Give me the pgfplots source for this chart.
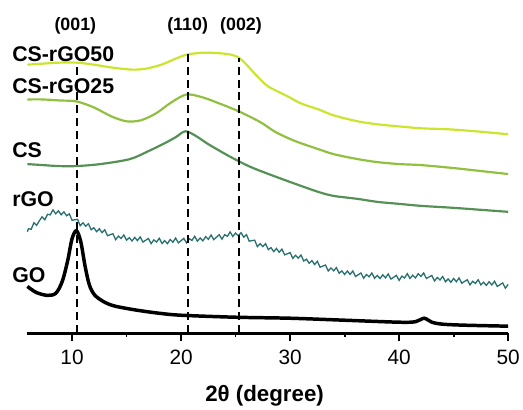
\documentclass[border=0pt]{standalone}
\usepackage{pgfplots}
\pgfplotsset{compat=1.18}
\usepackage{fontspec}
\setmainfont{Liberation Sans}
\definecolor{cfifty}{RGB}{205,228,45}
\definecolor{ctwfive}{RGB}{145,192,65}
\definecolor{ccs}{RGB}{85,145,85}
\definecolor{crgo}{RGB}{40,112,112}

\begin{document}
\begin{tikzpicture}
\begin{axis}[
    scale only axis,
    width=484bp, height=305bp,
    xmin=5.85, xmax=50, ymin=0, ymax=305,
    axis x line*=bottom, axis y line=none,
    clip=false,
    xtick={10,20,30,40,50},
    minor xtick={15,25,35,45},
    tick align=outside,
    major tick length=8bp, minor tick length=4bp,
    every tick/.style={black, line width=1.8bp},
    x axis line style={line width=2.8bp, -},
    /pgf/number format/assume math mode=true,
    xticklabel style={font=\fontsize{21}{21}\selectfont, yshift=-5bp},
    xlabel={\bfseries 2θ (degree)},
    xlabel style={font=\fontsize{22.5}{22.5}\selectfont, at={(axis description cs:0.494,-0.208)}, anchor=center},
    every axis plot/.append style={no marks},
]
% invisible page frame
\path (axis cs:3.39,-74) rectangle (axis cs:51.1,335);

\addplot[cfifty, line width=2.2bp, smooth] coordinates {
(5.9,270) (7.3,271) (8.8,272) (10.4,272) (12,270) (13.7,267) (15.5,265) (16.8,266)
(18.2,270) (19.5,276) (20.5,280) (22,282) (23.5,281.5) (24.6,280) (25.3,277) (26,270)
(27.1,257) (28,248) (29.8,238) (31,231) (32.6,225) (34,219) (36.2,213) (38,210)
(39.9,208) (42,206) (44.5,205) (47,203) (50,200)};

\addplot[ctwfive, line width=2.2bp, smooth] coordinates {
(5.9,235) (7.3,235) (8.8,234) (10.4,233) (12,227) (13.6,218) (15,213) (16.3,214)
(17.7,221) (19.1,232) (20.5,240) (22,237) (23.5,231) (25.3,223) (27.3,212) (28.7,202)
(30.5,193) (32.6,185) (34,180) (36.2,175) (38,172) (40,170) (42,169) (45,166)
(47.5,163) (50,160)};

\addplot[ccs, line width=2.2bp, smooth] coordinates {
(5.9,170) (7.3,169) (8.8,168) (10.4,168) (12.6,170) (15.3,175) (17,183) (18.5,191)
(19.5,197) (20.4,203) (21.4,198) (22.5,190) (24.4,178) (26,169) (27.3,163) (30,152)
(32.6,142) (34,138) (36.2,135) (38,132) (40,130) (42,128) (45,126) (47.5,124) (50,122)};

\addplot[crgo, line width=1.3bp] coordinates {
(5.9,102) (6.00,105) (6.25,104.5) (6.50,111) (6.75,108.5) (7.00,113) (7.25,117) (7.50,114)
(7.75,119.5) (8.00,119) (8.25,124) (8.50,120) (8.75,123) (9.00,119) (9.25,122) (9.50,118)
(9.75,120) (10.00,113.5) (10.25,114) (10.50,114.5) (10.75,108) (11.00,111) (11.25,107.5) (11.50,110)
(11.75,104) (12.00,106) (12.25,102) (12.50,105) (12.75,101) (13.00,104) (13.25,98) (13.50,99)
(13.75,100) (14.00,94) (14.25,97.6) (14.50,95.2) (14.75,98.8) (15.00,93.5) (15.25,96) (15.50,92.7)
(15.75,96.3) (16.00,93) (16.25,96.8) (16.50,91.6) (16.75,93.4) (17.00,95.2) (17.25,90) (17.50,93.8)
(17.75,91.6) (18.00,95.4) (18.25,90.2) (18.50,93) (18.75,90) (19.00,94.2) (19.25,91.4) (19.50,95.6)
(19.75,90.8) (20.00,93) (20.25,95.3) (20.50,90.7) (20.75,95) (21.00,93.2) (21.25,97.4) (21.50,92.5)
(21.75,95.7) (22.00,92.8) (22.25,97) (22.50,94.3) (22.75,98.7) (23.00,94) (23.25,96.5) (23.50,99)
(23.75,94.5) (24.00,99) (24.25,97.4) (24.50,101.8) (24.75,97.2) (25.00,100.6) (25.25,98) (25.50,101)
(25.75,96.5) (26.00,99) (26.25,92.5) (26.50,93) (26.75,93.5) (27.00,87) (27.25,90) (27.50,87)
(27.75,90) (28.00,84) (28.25,86) (28.50,82) (28.75,85.2) (29.00,81.3) (29.25,84.5) (29.50,78.7)
(29.75,79.8) (30.00,81) (30.25,75.2) (30.50,78.3) (30.75,75.4) (31.00,78.6) (31.25,72.5) (31.50,74.4)
(31.75,70.2) (32.00,73) (32.25,69) (32.50,72.2) (32.75,66.3) (33.00,67.4) (33.25,68.5) (33.50,62.5)
(33.75,65.6) (34.00,62.7) (34.25,65.9) (34.50,60.2) (34.75,62.6) (35.00,59) (35.25,62.5) (35.50,59)
(35.75,62.5) (36.00,57) (36.25,58.7) (36.50,60.5) (36.75,55.2) (37.00,59) (37.25,56.7) (37.50,60.5)
(37.75,55.2) (38.00,58) (38.25,54.9) (38.50,58.7) (38.75,55.6) (39.00,59.5) (39.25,54.4) (39.50,56.2)
(39.75,58.1) (40.00,53) (40.25,57.3) (40.50,55.5) (40.75,59.8) (41.00,55) (41.25,58.3) (41.50,55.5)
(41.75,59.8) (42.00,57) (42.25,60.5) (42.50,55) (42.75,56.5) (43.00,58) (43.25,52.5) (43.50,56)
(43.75,53.5) (44.00,57) (44.25,51.7) (44.50,54.5) (44.75,51.2) (45.00,55) (45.25,51.7) (45.50,55.5)
(45.75,50.2) (46.00,52) (46.25,53.7) (46.50,48.5) (46.75,52.2) (47.00,50) (47.25,53.7) (47.50,48.5)
(47.75,51.2) (48.00,48) (48.25,51.7) (48.50,48.5) (48.75,52.2) (49.00,47) (49.25,48.7) (49.50,50.5)
(49.75,45.2) (50.00,49)};

\addplot[black, line width=3.5bp, smooth] coordinates {
(5.9,47) (6.7,41) (7.7,38) (8.5,40) (9.1,52) (9.6,73) (10.0,95) (10.4,103)
(10.8,92) (11.2,67) (11.6,48) (12.1,38) (13,31) (14,27) (16,23) (18,20)
(20,18) (25,16) (30,15) (35,13) (40,11) (41.5,11.5) (42.3,15) (43,11)
(44,9) (46,8) (50,7)};

% reflection positions
\draw[black, line width=2bp, dash pattern=on 8bp off 5bp] (axis cs:10.45,0) -- (axis cs:10.45,272);
\draw[black, line width=2bp, dash pattern=on 8bp off 5bp] (axis cs:20.6,0) -- (axis cs:20.6,282);
\draw[black, line width=2bp, dash pattern=on 8bp off 5bp] (axis cs:25.3,0) -- (axis cs:25.3,277);

\node[font=\bfseries\fontsize{18}{18}\selectfont] at (axis cs:10.3,309) {(001)};
\node[font=\bfseries\fontsize{18}{18}\selectfont] at (axis cs:20.6,309) {(110)};
\node[font=\bfseries\fontsize{18}{18}\selectfont] at (axis cs:25.5,309) {(002)};

\node[anchor=west, font=\bfseries\fontsize{21.5}{21.5}\selectfont, inner sep=0pt] at (axis cs:4.5,281) {CS-rGO50};
\node[anchor=west, font=\bfseries\fontsize{21.5}{21.5}\selectfont, inner sep=0pt] at (axis cs:4.5,248) {CS-rGO25};
\node[anchor=west, font=\bfseries\fontsize{21.5}{21.5}\selectfont, inner sep=0pt] at (axis cs:4.5,184) {CS};
\node[anchor=west, font=\bfseries\fontsize{21.5}{21.5}\selectfont, inner sep=0pt] at (axis cs:4.5,135) {rGO};
\node[anchor=west, font=\bfseries\fontsize{21.5}{21.5}\selectfont, inner sep=0pt] at (axis cs:4.5,58) {GO};
\end{axis}
\end{tikzpicture}
\end{document}
